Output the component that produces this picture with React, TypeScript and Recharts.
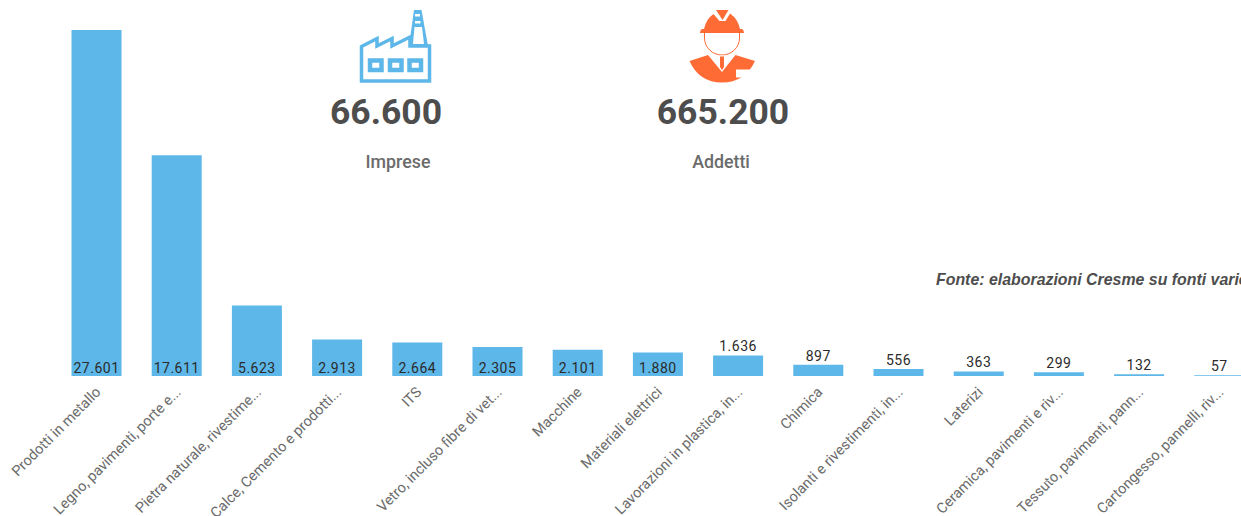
import { BarChart, Bar, XAxis, YAxis, LabelList } from 'recharts';

const CATEGORIES = [
  'Prodotti in metallo',
  'Legno, pavimenti, porte e...',
  'Pietra naturale, rivestime...',
  'Calce, Cemento e prodotti...',
  'ITS',
  'Vetro, incluso fibre di vet...',
  'Macchine',
  'Materiali elettrici',
  'Lavorazioni in plastica, in...',
  'Chimica',
  'Isolanti e rivestimenti, in...',
  'Laterizi',
  'Ceramica, pavimenti e riv...',
  'Tessuto, pavimenti, pann...',
  'Cartongesso, pannelli, riv...',
];
const VALUES = [27601, 17611, 5623, 2913, 2664, 2305, 2101, 1880, 1636, 897, 556, 363, 299, 132, 57];
const STATS = [
  { value: '66.600', label: 'Imprese' },
  { value: '665.200', label: 'Addetti' },
];
const SOURCE_NOTE = 'Fonte: elaborazioni Cresme su fonti varie';

const chartData = CATEGORIES.map((name, i) => ({ name, value: VALUES[i] }));

const BLUE = '#5DB7E8';
const ORANGE = '#FF6B35';
const FONT = 'Roboto, sans-serif';

// 27.601 style, the chart uses the italian thousands separator
function formatValue(v: number): string {
  return String(v).replace(/\B(?=(\d{3})+$)/g, '.');
}

function AngledTick({ x, y, payload }: any) {
  return (
    <text
      transform={`translate(${x + 5},${y + 11}) rotate(-45)`}
      textAnchor="end"
      fontFamily={FONT}
      fontSize={14.5}
      fill="#6b6b6b"
    >
      {payload.value}
    </text>
  );
}

// tall bars carry the label inside at the bottom, short ones above the bar
function ValueLabel({ x, y, width, height, value }: any) {
  const inside = height > 22;
  return (
    <text
      x={x + width / 2}
      y={inside ? y + height - 3 : y - 4}
      textAnchor="middle"
      fontFamily={FONT}
      fontSize={14}
      letterSpacing={0.5}
      fill="#2b2b2b"
    >
      {formatValue(value)}
    </text>
  );
}

function FactoryIcon() {
  return (
    <svg width={150} height={90} style={{ position: 'absolute', left: 330, top: 0 }}>
      <path d="M31.5 81 V46.5 L47 38.5 V46 L62 38.5 V46 L80 37 V46 H99.5 V81 Z" fill="none" stroke={BLUE} strokeWidth={3.5} />
      <path d="M79 46 L84 10 H91.5 L98 46 Z" fill={BLUE} />
      <path d="M84.5 27 H92 L94 44 H83 Z" fill="#fff" />
      <rect x={85} y={14} width={5} height={2.5} fill="#fff" />
      <rect x={85} y={21} width={5.5} height={2.5} fill="#fff" />
      <rect x={40} y={60.5} width={11.5} height={9.5} fill="none" stroke={BLUE} strokeWidth={4.5} />
      <rect x={60} y={60.5} width={11.5} height={9.5} fill="none" stroke={BLUE} strokeWidth={4.5} />
      <rect x={79.5} y={60.5} width={11.5} height={9.5} fill="none" stroke={BLUE} strokeWidth={4.5} />
    </svg>
  );
}

function WorkerIcon() {
  return (
    <svg width={150} height={90} style={{ position: 'absolute', left: 650, top: 0 }}>
      <path d="M66 10 H78.5 L72.5 20 Z" fill={ORANGE} />
      <path d="M54 29 Q56 19 63.5 14 L69.5 21 H75.5 L80 13.5 Q88 19 90 29 H92 Q94 30 94 33 H50 Q50 30 52 29 Z" fill={ORANGE} />
      <path d="M54.5 33 V38 A17.5 17 0 0 0 89.5 38 V33" fill="#fff" stroke={ORANGE} strokeWidth={1} />
      <path d="M39.5 61 L58 55 L72 72 L85.5 55 L105 61 Q95 82.5 72 82.5 Q49 82.5 39.5 61 Z" fill={ORANGE} />
      <path d="M69.5 56 H74.5 V67 L72 71 L69.5 67 Z" fill={ORANGE} stroke="#fff" strokeWidth={1} />
      <path d="M86 69.5 H101 L96.5 77.5 H86 Z" fill="#fff" />
    </svg>
  );
}

function Stat({ value, label, cx, labelCx }: { value: string; label: string; cx: number; labelCx: number }) {
  const base = { position: 'absolute', textAlign: 'center', fontFamily: FONT, width: 200 } as const;
  return (
    <>
      <div style={{ ...base, left: cx - 100, top: 90, fontSize: 35.5, lineHeight: '44px', fontWeight: 700, color: '#4d4d4d' }}>{value}</div>
      <div style={{ ...base, left: labelCx - 100, top: 152, fontSize: 17.8, lineHeight: '20px', fontWeight: 500, color: '#6b6b6b' }}>{label}</div>
    </>
  );
}

export default function App() {
  return (
    <div style={{ position: 'absolute', left: 0, top: 0, width: 1241, height: 516, overflow: 'hidden', background: '#fff' }}>
      <BarChart
        width={1260}
        height={516}
        data={chartData}
        margin={{ top: 30, right: 0.5, bottom: 0, left: 56.5 }}
        barCategoryGap={0}
      >
        <XAxis
          dataKey="name"
          height={140}
          interval={0}
          axisLine={false}
          tickLine={false}
          tickMargin={0}
          tick={<AngledTick />}
        />
        <YAxis hide domain={[0, 27601]} />
        <Bar dataKey="value" fill={BLUE} barSize={50} isAnimationActive={false}>
          <LabelList dataKey="value" content={<ValueLabel />} />
        </Bar>
      </BarChart>
      <FactoryIcon />
      <WorkerIcon />
      <Stat value={STATS[0].value} label={STATS[0].label} cx={386} labelCx={398} />
      <Stat value={STATS[1].value} label={STATS[1].label} cx={723} labelCx={721} />
      <div
        style={{
          position: 'absolute',
          left: 936,
          top: 271,
          whiteSpace: 'nowrap',
          fontFamily: '"Liberation Sans", Arial, sans-serif',
          fontSize: 15.9,
          lineHeight: '18px',
          fontWeight: 700,
          fontStyle: 'italic',
          color: '#4d4d4d',
        }}
      >
        {SOURCE_NOTE}
      </div>
    </div>
  );
}
